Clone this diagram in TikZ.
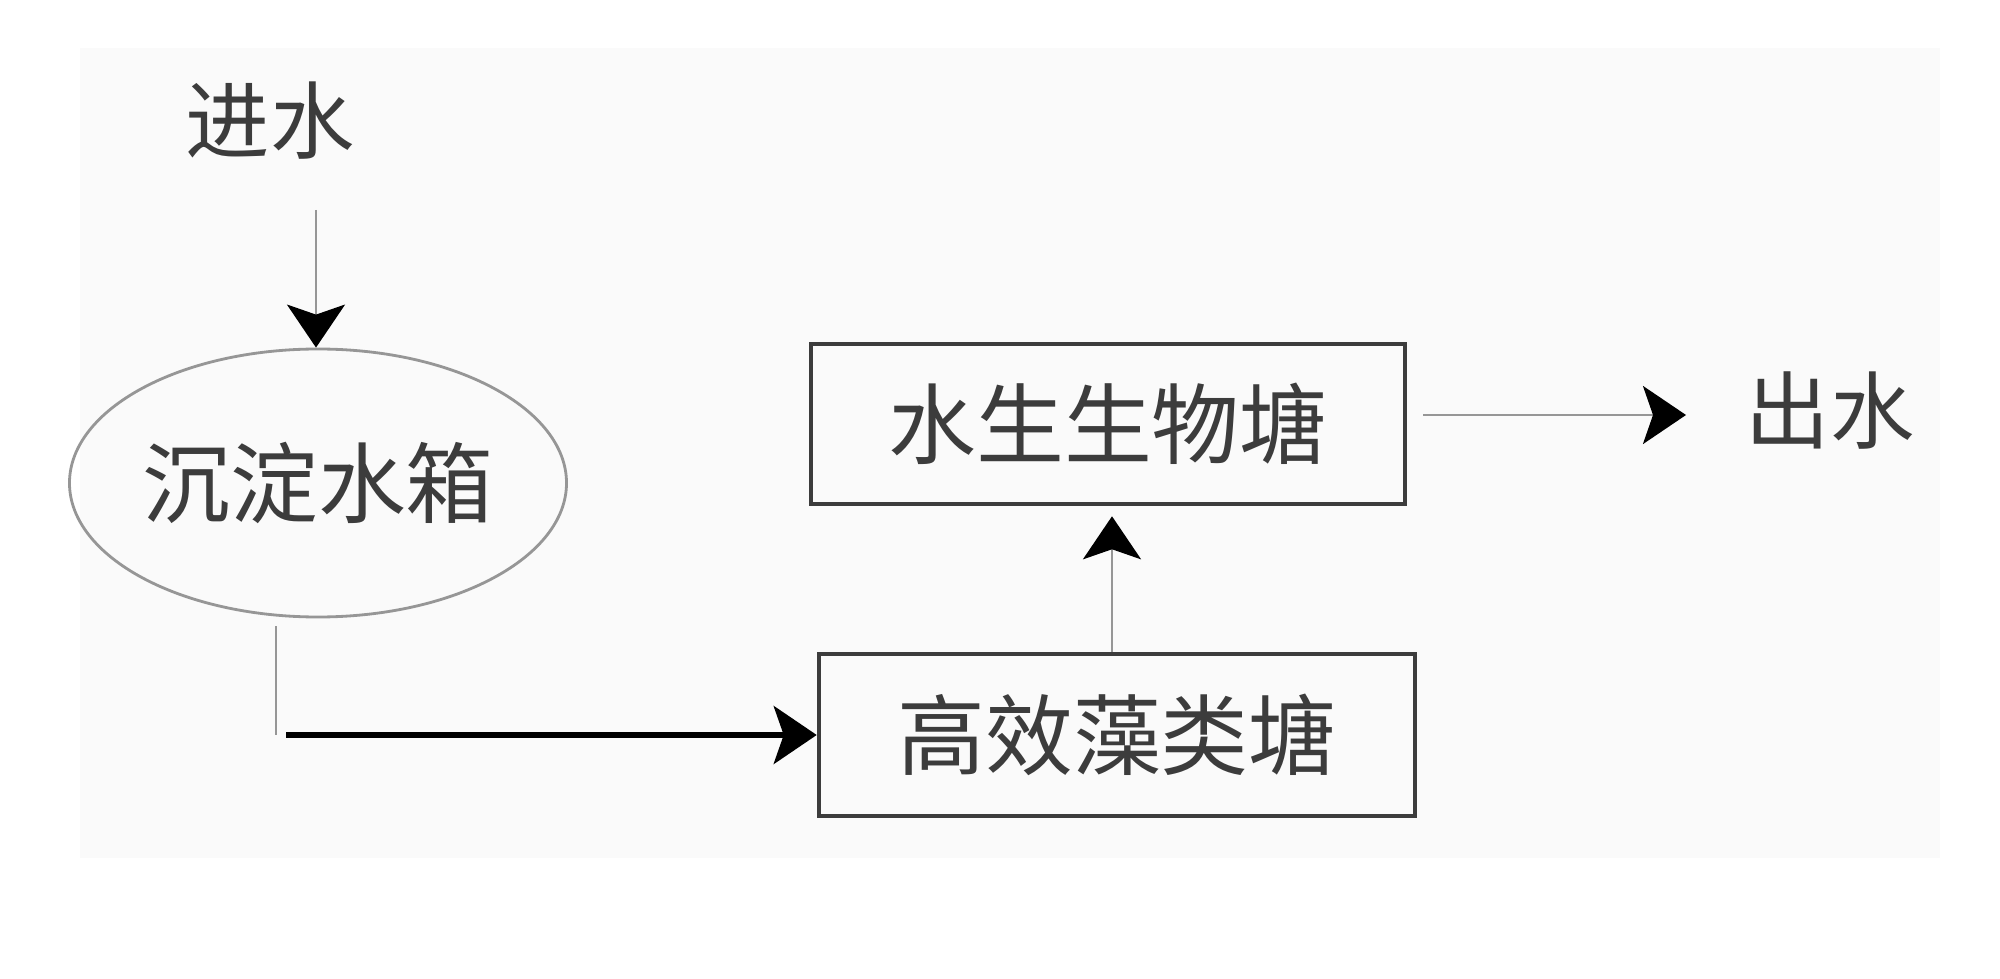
\documentclass[tikz,border=0pt]{standalone}
\usepackage{fontspec}
\newfontfamily\cjk{Noto Sans CJK SC}
\definecolor{inkgray}{RGB}{60,60,60}
\definecolor{linegray}{RGB}{150,150,150}
\usetikzlibrary{shapes.geometric, arrows.meta, positioning, calc}

\begin{document}
\begin{tikzpicture}[
    pond/.style={rectangle, draw=inkgray, line width=1.3pt,
                 minimum width=5.94cm, minimum height=1.6cm,
                 font=\cjk\fontsize{25}{30}\selectfont, text=inkgray, inner sep=0pt},
    tank/.style={ellipse, draw=linegray, line width=0.8pt,
                 minimum width=4.69cm, minimum height=2.68cm,
                 font=\cjk\fontsize{25}{30}\selectfont, text=inkgray, inner sep=0pt},
    label/.style={font=\cjk\fontsize{24}{28}\selectfont, text=inkgray, inner sep=2pt},
    thinflow/.style={draw=linegray, line width=0.8pt,
                     -{Stealth[length=4.3mm, width=5.8mm, inset=1mm, color=black]}},
    boldflow/.style={draw=black, line width=1.5pt,
                     -{Stealth[length=4.3mm, width=5.8mm, inset=1mm]}}
]
\useasboundingbox (0,0) rectangle (20,9.78);
\fill[black!2] (0.8,1.2) rectangle (19.4,9.3);

% nodes
\node[label] (inlet) at (2.70,8.57) {进水};
\node[tank] (settle) at (3.18,4.95) {沉淀水箱};
\node[pond] (bio) at (11.08,5.54) {水生生物塘};
\node[pond, minimum width=5.96cm, minimum height=1.62cm] (algae) at (11.17,2.43) {高效藻类塘};
\node[label] (outlet) at (18.30,5.67) {出水};

\coordinate (infrom) at (3.16,7.68);
\coordinate (bend) at ([xshift=-4.2mm]settle.south |- algae.west);

% connectors
\draw[thinflow] (infrom) -- (infrom |- settle.north);
\draw[draw=linegray, line width=0.8pt] ([xshift=-4.2mm,yshift=-0.8mm]settle.south) -- (bend);
\draw[boldflow] ([xshift=1mm]bend) -- (algae.west);
\draw[thinflow, shorten >=1mm] ([xshift=-0.5mm]algae.north) -- ([xshift=-0.5mm]algae.north |- bio.south);
\draw[thinflow, shorten <=1.6mm] ([yshift=0.9mm]bio.east) -- ([yshift=0.9mm]bio.east -| 16.86,0);
\end{tikzpicture}
\end{document}
